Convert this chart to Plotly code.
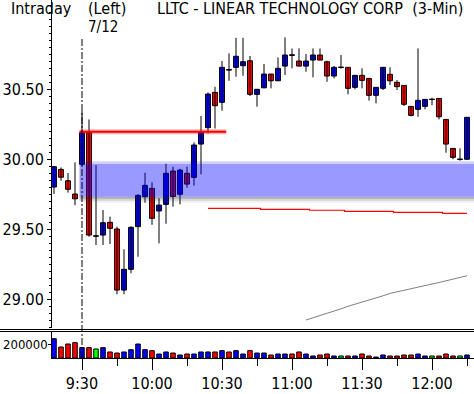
import plotly.graph_objects as go

# ---------------- data ----------------
# 3-minute bars, first bar 9:18 (previous session tail), last bar 12:15
times = []
h, m = 9, 18
for _ in range(60):
    times.append(f"{h}:{m:02d}")
    m += 3
    if m >= 60:
        h += 1
        m -= 60

opens = [29.80, 29.926, 29.845, 29.75, 29.962, 30.188, 29.45, 29.457, 29.548, 29.50,
         29.064, 29.212, 29.517, 29.731, 29.79, 29.629, 29.676, 29.914, 29.748, 29.898,
         29.869, 30.107, 30.224, 30.476, 30.405, 30.64, 30.655, 30.667, 30.702, 30.462,
         30.509, 30.607, 30.559, 30.664, 30.745, 30.70, 30.664, 30.707, 30.743, 30.695,
         30.593, 30.655, 30.655, 30.512, 30.598, 30.576, 30.455, 30.505, 30.605, 30.548,
         30.526, 30.376, 30.355, 30.376, 30.426, 30.433, 30.283, 30.076, 29.998, 29.998]
highs = [29.95, 29.94, 29.90, 29.976, 30.343, 30.283, 29.957, 29.636, 29.588, 29.517,
         29.355, 29.52, 29.75, 29.902, 29.833, 29.72, 29.966, 29.945, 29.93, 29.945,
         30.119, 30.307, 30.476, 30.516, 30.70, 30.755, 30.866, 30.866, 30.736, 30.498,
         30.679, 30.607, 30.726, 30.869, 30.79, 30.79, 30.75, 30.79, 30.79, 30.702,
         30.664, 30.743, 30.655, 30.598, 30.648, 30.576, 30.512, 30.655, 30.655, 30.564,
         30.526, 30.376, 30.79, 30.426, 30.438, 30.433, 30.283, 30.076, 30.076, 30.298]
lows = [29.75, 29.845, 29.76, 29.67, 29.95, 29.445, 29.386, 29.386, 29.393, 29.034,
        29.034, 29.184, 29.302, 29.688, 29.53, 29.398, 29.538, 29.66, 29.676, 29.795,
        29.81, 29.891, 30.183, 30.218, 30.345, 30.559, 30.588, 30.595, 30.45, 30.374,
        30.505, 30.505, 30.559, 30.60, 30.648, 30.664, 30.624, 30.584, 30.707, 30.552,
        30.576, 30.645, 30.462, 30.498, 30.505, 30.417, 30.398, 30.493, 30.529, 30.493,
        30.379, 30.305, 30.302, 30.355, 30.384, 30.283, 30.045, 29.998, 29.988, 29.998]
closes = [29.945, 29.87, 29.784, 29.716, 30.188, 29.457, 29.45, 29.545, 29.505, 29.064,
          29.212, 29.512, 29.74, 29.812, 29.576, 29.671, 29.898, 29.733, 29.921, 29.821,
          30.10, 30.19, 30.464, 30.381, 30.655, 30.635, 30.734, 30.695, 30.462, 30.498,
          30.607, 30.559, 30.648, 30.743, 30.74, 30.664, 30.70, 30.743, 30.707, 30.593,
          30.655, 30.655, 30.505, 30.598, 30.562, 30.455, 30.512, 30.655, 30.559, 30.517,
          30.391, 30.312, 30.419, 30.426, 30.426, 30.302, 30.107, 30.012, 29.998, 30.298]
volumes = [276000, 157000, 200000, 219000, 148000, 148000, 129000, 148000, 86000, 71000,
           86000, 119000, 200000, 119000, 105000, 57000, 86000, 71000, 43000, 57000,
           57000, 86000, 86000, 86000, 105000, 86000, 105000, 57000, 105000, 71000,
           71000, 43000, 57000, 57000, 57000, 86000, 57000, 29000, 43000, 57000,
           29000, 29000, 29000, 29000, 57000, 29000, 14000, 43000, 29000, 29000,
           43000, 43000, 57000, 29000, 29000, 29000, 57000, 29000, 29000, 43000]

# indicator lines
lower_line_start = "10:24"
lower_line = [29.648, 29.648, 29.648, 29.648, 29.648, 29.648, 29.648, 29.648,
              29.641, 29.641, 29.641, 29.641, 29.641, 29.641, 29.641,
              29.634, 29.634, 29.634, 29.634, 29.634,
              29.626, 29.626, 29.626, 29.626, 29.626, 29.626, 29.626,
              29.619, 29.619, 29.619, 29.619, 29.619, 29.619, 29.619,
              29.612, 29.612, 29.612, 29.612]
gray_line_start = "11:06"
gray_line = [28.850, 28.865, 28.880, 28.895, 28.915, 28.930, 28.948, 28.962,
             28.977, 28.993, 29.008, 29.023, 29.040, 29.052, 29.063, 29.074,
             29.085, 29.096, 29.107, 29.118, 29.129, 29.140, 29.152, 29.166]

# levels
zone_top = 29.964
zone_bottom = 29.73
open_high_level = 30.195
open_high_end = "10:30"
session_start = "9:30"

major_ticks = ["9:30", "10:00", "10:30", "11:00", "11:30", "12:00"]
minor_ticks = ["9:45", "10:15", "10:45", "11:15", "11:45", "12:15"]
price_ticks = [29.00, 29.50, 30.00, 30.50]
volume_ticks = [200000]

# ---------------- figure ----------------
W, H = 474, 394
FONT = "Liberation Sans Narrow, DejaVu Sans Condensed, Arial Narrow, sans-serif"
BLUE, RED, GREEN = "#0000ff", "#ff0000", "#00ff00"

idx = list(range(len(times)))
pos = {t: i for i, t in enumerate(times)}


def py(px):
    return 1 - px / H


VOL_DOMAIN = [py(358), py(331)]
VOL_RANGE = [0, 385714]

fig = go.Figure()

# wicks
wx, wy = [], []
for i in idx:
    wx += [i, i, None]
    wy += [lows[i], highs[i], None]
fig.add_trace(go.Scatter(x=wx, y=wy, mode="lines", line=dict(color="black", width=1),
                         hoverinfo="skip", showlegend=False, xaxis="x", yaxis="y"))

# bodies
body_col = [BLUE if c > o else RED for o, c in zip(opens, closes)]
fig.add_trace(go.Bar(x=idx, y=[c - o for o, c in zip(opens, closes)], base=opens,
                     width=0.7, marker=dict(color=body_col, line=dict(color="black", width=1)),
                     hoverinfo="skip", showlegend=False, xaxis="x", yaxis="y"))

# doji crosses
dx, dy = [], []
for i in idx:
    if opens[i] == closes[i]:
        dx += [i - 0.4, i + 0.4, None]
        dy += [opens[i], opens[i], None]
fig.add_trace(go.Scatter(x=dx, y=dy, mode="lines", line=dict(color="black", width=1),
                         hoverinfo="skip", showlegend=False, xaxis="x", yaxis="y"))

# lower red step line
s = pos[lower_line_start]
fig.add_trace(go.Scatter(x=list(range(s, s + len(lower_line))), y=lower_line, mode="lines",
                         line=dict(color=RED, width=1.2, shape="hvh"),
                         hoverinfo="skip", showlegend=False, xaxis="x", yaxis="y"))
# gray line
g = pos[gray_line_start]
fig.add_trace(go.Scatter(x=list(range(g, g + len(gray_line))), y=gray_line, mode="lines",
                         line=dict(color="#808080", width=1),
                         hoverinfo="skip", showlegend=False, xaxis="x", yaxis="y"))

# volume
vol_col = [BLUE if c > o else (RED if c < o else GREEN) for o, c in zip(opens, closes)]
fig.add_trace(go.Bar(x=idx, y=volumes, width=0.65,
                     marker=dict(color=vol_col, line=dict(color="black", width=1)),
                     hoverinfo="skip", showlegend=False, xaxis="x", yaxis="y2"))

x_left = pos[session_start] - 0.35
shapes = []
# zone band
shapes.append(dict(type="rect", xref="x", yref="y", x0=x_left, x1=60.5, y0=zone_top, y1=zone_top + 0.021,
                   fillcolor="rgba(0,0,255,0.18)", line=dict(width=0), layer="above"))
shapes.append(dict(type="rect", xref="x", yref="y", x0=x_left, x1=60.5, y0=zone_bottom, y1=zone_top,
                   fillcolor="rgba(0,0,255,0.4)", line=dict(width=0), layer="above"))
for k, a in enumerate([0.38, 0.2, 0.07]):
    shapes.append(dict(type="rect", xref="x", yref="y", x0=x_left, x1=60.5,
                       y0=zone_bottom - 0.0143 * (k + 1), y1=zone_bottom - 0.0143 * k,
                       fillcolor=f"rgba(40,40,60,{a})", line=dict(width=0), layer="above"))
# open-high red line with glow
shapes.append(dict(type="line", xref="x", yref="y", x0=x_left, x1=pos[open_high_end] + 0.6,
                   y0=open_high_level, y1=open_high_level,
                   line=dict(color="rgba(255,0,0,0.3)", width=5), layer="above"))
shapes.append(dict(type="line", xref="x", yref="y", x0=x_left, x1=pos[open_high_end] + 0.6,
                   y0=open_high_level, y1=open_high_level,
                   line=dict(color=RED, width=2), layer="above"))
# session separator
shapes.append(dict(type="line", xref="x", yref="paper", x0=pos[session_start], x1=pos[session_start],
                   y0=py(358), y1=py(38), line=dict(color="black", width=1, dash="7px,2px,2px,2px"),
                   layer="above"))
# double separator between panels
for yy in (329.5, 331.5):
    shapes.append(dict(type="line", xref="paper", yref="paper", x0=0, x1=1, y0=py(yy), y1=py(yy),
                       line=dict(color="black", width=1)))

annotations = [
    dict(text="Intraday", x=9 / W, y=py(8.5), xref="paper", yref="paper", xanchor="left",
         yanchor="middle", showarrow=False, font=dict(size=16, color="black", family=FONT)),
    dict(text="(Left)", x=86 / W, y=py(8.5), xref="paper", yref="paper", xanchor="left",
         yanchor="middle", showarrow=False, font=dict(size=16, color="black", family=FONT)),
    dict(text="LLTC - LINEAR TECHNOLOGY CORP  (3-Min)", x=155 / W, y=py(8.5), xref="paper",
         yref="paper", xanchor="left", yanchor="middle", showarrow=False,
         font=dict(size=16, color="black", family=FONT)),
    dict(text="7/12", x=86 / W, y=py(26.5), xref="paper", yref="paper", xanchor="left",
         yanchor="middle", showarrow=False, font=dict(size=15, color="black", family=FONT)),
]
# volume tick label (placed via the volume axis value)
for v in volume_ticks:
    annotations.append(dict(text=str(v), x=49.5 / W, xref="paper", y=v, yref="y2",
                            xanchor="right", yanchor="middle", showarrow=False,
                            font=dict(size=13, color="black", family=FONT)))

fig.update_layout(
    width=W, height=H, margin=dict(l=0, r=0, t=0, b=0, autoexpand=False),
    paper_bgcolor="white", plot_bgcolor="white",
    font=dict(family=FONT, size=15, color="black"),
    barmode="overlay", bargap=0, showlegend=False, hovermode=False,
    shapes=shapes, annotations=annotations,
    xaxis=dict(domain=[52 / W, 1], range=[-0.286, 60], anchor="y2", automargin=False,
               showline=True, linecolor="black", linewidth=1, showgrid=False, zeroline=False,
               ticks="outside", ticklen=11, tickcolor="black", tickwidth=1,
               tickvals=[pos[t] for t in major_ticks], ticktext=major_ticks,
               minor=dict(tickvals=[pos[t] for t in minor_ticks], ticks="outside", ticklen=7,
                          tickcolor="black", tickwidth=1, showgrid=False),
               tickfont=dict(size=16, family=FONT)),
    yaxis=dict(domain=[py(328), 1], range=[28.793, 31.136], anchor="x", automargin=False,
               showline=True, linecolor="black", linewidth=1, showgrid=False, zeroline=False,
               ticks="outside", ticklen=4, tickcolor="black",
               tickvals=price_ticks, tickformat=".2f",
               minor=dict(dtick=0.05, ticks="outside", ticklen=2, tickcolor="black", showgrid=False),
               tickfont=dict(size=16, family=FONT)),
    yaxis2=dict(domain=VOL_DOMAIN, range=VOL_RANGE, anchor="x", automargin=False,
                showline=True, linecolor="black", linewidth=1, showgrid=False, zeroline=False,
                ticks="outside", ticklen=3, tickcolor="black",
                tickvals=volume_ticks, showticklabels=False),
)

fig.write_html("out.html", config=dict(displayModeBar=False, staticPlot=True),
               post_script="document.body.style.margin='0';document.body.style.padding='0';")
